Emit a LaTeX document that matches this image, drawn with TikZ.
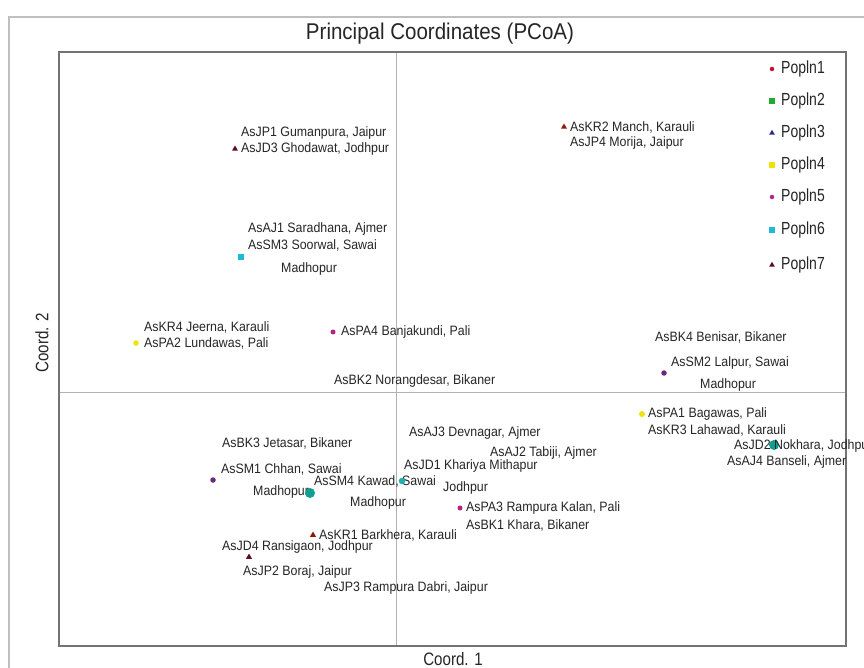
\documentclass[tikz,border=0pt]{standalone}
\usepackage{fontspec}
\setmainfont{Liberation Sans}
\usetikzlibrary{shapes.geometric}
\newcommand\myL[1]{\scalebox{0.91}[1]{#1}}
\newcommand\myG[1]{\scalebox{0.8}[1]{#1}}
\newcommand\myT[1]{\scalebox{0.9}[1]{#1}}
\newcommand\myA[1]{\scalebox{0.84}[1]{#1}}
\begin{document}
\begin{tikzpicture}[x=1pt,y=-1pt,
  lbl/.style={anchor=west,inner sep=0pt,font=\fontsize{13.6}{15}\selectfont,text=black!85},
  leg/.style={anchor=west,inner sep=0pt,font=\fontsize{17.5}{20}\selectfont,text=black!85},
  ttl/.style={inner sep=0pt,font=\fontsize{22.8}{26}\selectfont,text=black!85},
  axl/.style={inner sep=0pt,font=\fontsize{18}{21}\selectfont,text=black!85},
  tri/.style={regular polygon,regular polygon sides=3,inner sep=0pt,minimum size=7pt,draw=none,fill=#1},
  sq/.style={rectangle,inner sep=0pt,minimum size=5.5pt,draw=none,fill=#1},
  dot/.style={circle,inner sep=0pt,minimum size=5pt,draw=none,fill=#1},
  big/.style={circle,inner sep=0pt,minimum size=10pt,draw=none,fill=#1}]
\definecolor{cred}{HTML}{C8102E}
\definecolor{cgreen}{HTML}{22AA33}
\definecolor{cnavy}{HTML}{2A2A8A}
\definecolor{cyel}{HTML}{F2E200}
\definecolor{cmag}{HTML}{B8208A}
\definecolor{ccyan}{HTML}{22B8D8}
\definecolor{cmaroon}{HTML}{5A0D1E}
\definecolor{cbrown}{HTML}{8B1A05}
\definecolor{cpurp}{HTML}{6A2A7A}
\definecolor{cteal}{HTML}{10A090}
\definecolor{cteal2}{HTML}{20B0B0}
\useasboundingbox (0,0) rectangle (864,668);
\fill[white] (0,0) rectangle (864,668);
% outer frame
\draw[black!25,line width=1.2pt] (9,668) -- (9,17) -- (864,17);
% title
\node[ttl] (title) at (440,34) {\myT{Principal Coordinates (PCoA)}};
% plot box
\coordinate (bl) at (59,646);
\coordinate (tr) at (846,52);
\draw[black!30,line width=1.0pt] (396,52) -- (396,646);
\draw[black!30,line width=1.0pt] (59,392) -- (846,392);
\draw[black!55,line width=1.6pt] (bl) rectangle (tr);
% axis labels
\node[axl] (xlab) at (453,659) {\myA{Coord. 1}};
\node[axl,rotate=90] (ylab) at (42,343) {\myA{Coord. 2}};
% legend
\node[dot=cred,minimum size=4.5pt] (m1) at (772,69) {};
\node[leg] (l1) at (781,69) {\myG{Popln1}};
\node[sq=cgreen] (m2) at (772,101) {};
\node[leg] (l2) at (781,101) {\myG{Popln2}};
\node[tri=cnavy,minimum size=6.5pt] (m3) at (772,133) {};
\node[leg] (l3) at (781,133) {\myG{Popln3}};
\node[sq=cyel] (m4) at (772,165) {};
\node[leg] (l4) at (781,165) {\myG{Popln4}};
\node[dot=cmag,minimum size=4.5pt] (m5) at (772,197) {};
\node[leg] (l5) at (781,197) {\myG{Popln5}};
\node[sq=ccyan] (m6) at (772,230) {};
\node[leg] (l6) at (781,230) {\myG{Popln6}};
\node[tri=cmaroon,minimum size=6.5pt] (m7) at (772,265) {};
\node[leg] (l7) at (781,265) {\myG{Popln7}};
% data points and labels
\node[tri=cmaroon] (p1) at (235,149) {};
\node[lbl] (t1a) at (241,133) {\myL{AsJP1 Gumanpura, Jaipur}};
\node[lbl] (t1b) at (241,149) {\myL{AsJD3 Ghodawat, Jodhpur}};
\node[tri=cbrown] (p2) at (564,127) {};
\node[lbl] (t2a) at (570,127) {\myL{AsKR2 Manch, Karauli}};
\node[lbl] (t2b) at (570,143) {\myL{AsJP4 Morija, Jaipur}};
\node[sq=ccyan] (p3) at (241,257) {};
\node[lbl] (t3a) at (248,229) {\myL{AsAJ1 Saradhana, Ajmer}};
\node[lbl] (t3b) at (248,245) {\myL{AsSM3 Soorwal, Sawai}};
\node[lbl] (t3c) at (281,269) {\myL{Madhopur}};
\node[dot=cyel,minimum size=5.5pt] (p4) at (136,343) {};
\node[lbl] (t4a) at (144,327) {\myL{AsKR4 Jeerna, Karauli}};
\node[lbl] (t4b) at (144,343) {\myL{AsPA2 Lundawas, Pali}};
\node[dot=cmag] (p5) at (333,332) {};
\node[lbl] (t5) at (341,332) {\myL{AsPA4 Banjakundi, Pali}};
\node[lbl] (t6) at (334,381) {\myL{AsBK2 Norangdesar, Bikaner}};
\node[lbl] (t7) at (655,337) {\myL{AsBK4 Benisar, Bikaner}};
\node[dot=cpurp,minimum size=5.5pt] (p8) at (664,373) {};
\node[lbl] (t8a) at (671,363) {\myL{AsSM2 Lalpur, Sawai}};
\node[lbl] (t8b) at (700,385) {\myL{Madhopur}};
\node[dot=cyel,minimum size=6pt] (p9) at (642,414) {};
\node[lbl] (t9a) at (648,414) {\myL{AsPA1 Bagawas, Pali}};
\node[lbl] (t9b) at (648,430) {\myL{AsKR3 Lahawad, Karauli}};
\node[big=cteal] (p10) at (774,445) {};
\node[lbl] (t10a) at (734,446) {\myL{AsJD2 Nokhara, Jodhpur}};
\node[lbl] (t10b) at (727,462) {\myL{AsAJ4 Banseli, Ajmer}};
\node[lbl] (t11) at (409,433) {\myL{AsAJ3 Devnagar, Ajmer}};
\node[lbl] (t12) at (490,453) {\myL{AsAJ2 Tabiji, Ajmer}};
\node[lbl] (t13) at (222,443) {\myL{AsBK3 Jetasar, Bikaner}};
\node[dot=cpurp,minimum size=5.5pt] (p14) at (213,480) {};
\node[lbl] (t14a) at (221,469) {\myL{AsSM1 Chhan, Sawai}};
\node[lbl] (t14b) at (253,492) {\myL{Madhopur}};
\node[big=cteal] (p15) at (310,493) {};
\node[lbl] (t15a) at (314,481) {\myL{AsSM4 Kawad, Sawai}};
\node[lbl] (t15b) at (350,503) {\myL{Madhopur}};
\node[dot=cteal2,minimum size=6.5pt] (p16) at (402,481) {};
\node[lbl] (t16a) at (404,466) {\myL{AsJD1 Khariya Mithapur}};
\node[lbl] (t16b) at (443,488) {\myL{Jodhpur}};
\node[dot=cmag] (p17) at (460,508) {};
\node[lbl] (t17a) at (466,508) {\myL{AsPA3 Rampura Kalan, Pali}};
\node[lbl] (t17b) at (466,525) {\myL{AsBK1 Khara, Bikaner}};
\node[tri=cbrown] (p18) at (313,535) {};
\node[lbl] (t18) at (319,535) {\myL{AsKR1 Barkhera, Karauli}};
\node[lbl] (t19) at (222,547) {\myL{AsJD4 Ransigaon, Jodhpur}};
\node[tri=cmaroon] (p20) at (249,557) {};
\node[lbl] (t20) at (243,572) {\myL{AsJP2 Boraj, Jaipur}};
\node[lbl] (t21) at (324,588) {\myL{AsJP3 Rampura Dabri, Jaipur}};
\end{tikzpicture}
\end{document}
